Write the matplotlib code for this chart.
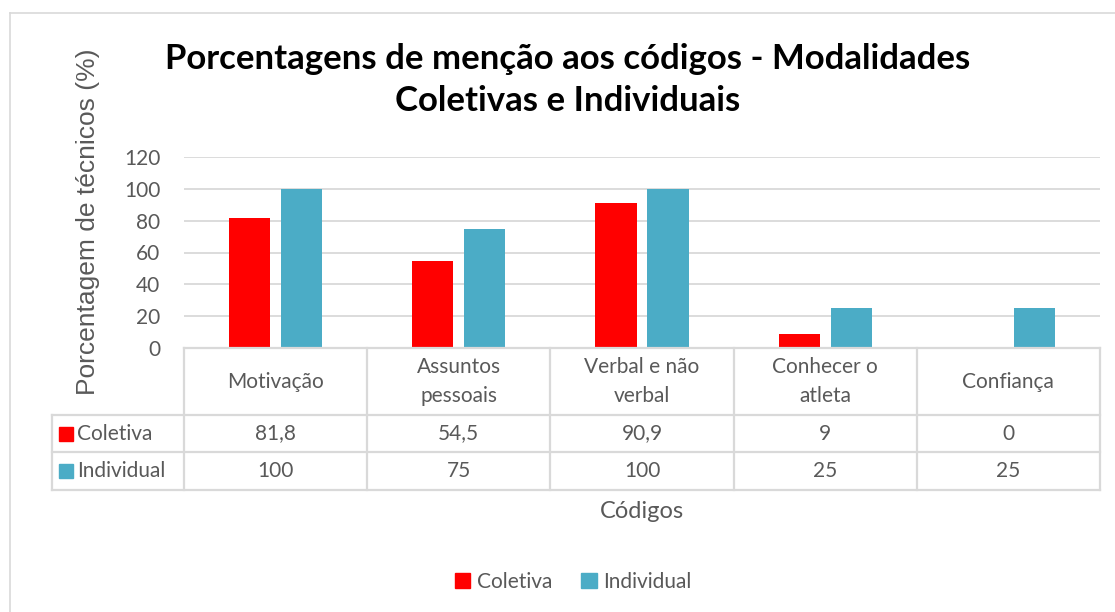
import numpy as np
import matplotlib.pyplot as plt
from matplotlib.lines import Line2D
from matplotlib.patches import Rectangle

plt.rcParams['font.family'] = ['Lato', 'DejaVu Sans']

categories = ['Motivação', 'Assuntos\npessoais', 'Verbal e não\nverbal', 'Conhecer o\natleta', 'Confiança']
coletiva = [81.8, 54.5, 90.9, 9, 0]
individual = [100, 75, 100, 25, 25]
coletiva_txt = ['81,8', '54,5', '90,9', '9', '0']
individual_txt = ['100', '75', '100', '25', '25']
series = ['Coletiva', 'Individual']
colors = ['#FF0000', '#4BACC6']
yticks = [0, 20, 40, 60, 80, 100, 120]

W, H = 1115, 612
grey = '#595959'
line_c = '#D9D9D9'
fs = 15

fig = plt.figure(figsize=(W / 100, H / 100), dpi=100)


def fx(px):
    return px / W


def fy(py):
    return 1 - py / H


# outer chart border
fig.add_artist(Line2D([fx(10), fx(10)], [fy(13), 0], color=line_c, lw=1.2))
fig.add_artist(Line2D([fx(10), 1], [fy(13), fy(13)], color=line_c, lw=1.2))

# plot area
x0, x1, ytop, ybot = 184, 1100, 157, 348
ax = fig.add_axes([fx(x0), fy(ybot), fx(x1 - x0), (ybot - ytop) / H])
x = np.arange(len(categories))
bw = 0.224
ax.bar(x - 0.142, coletiva, bw, color=colors[0], label=series[0])
ax.bar(x + 0.142, individual, bw, color=colors[1], label=series[1])
ax.set_xlim(-0.5, len(categories) - 0.5)
ax.set_ylim(0, 120)
ax.set_yticks(yticks)
ax.set_xticks([])
ax.yaxis.grid(True, color=line_c, lw=1.3)
ax.set_axisbelow(True)
for s in ax.spines.values():
    s.set_visible(False)
ax.tick_params(axis='y', length=0, labelsize=fs, labelcolor=grey, pad=17)

# data table
cw = (x1 - x0) / len(categories)
tl, r1, r2, r3 = 52, 415, 452, 490
tab_kw = dict(color=line_c, lw=1.6)
fig.add_artist(Line2D([fx(x0), fx(x1)], [fy(ybot), fy(ybot)], **tab_kw))
for yy in (r1, r2, r3):
    fig.add_artist(Line2D([fx(tl), fx(x1)], [fy(yy), fy(yy)], **tab_kw))
fig.add_artist(Line2D([fx(tl), fx(tl)], [fy(r1), fy(r3)], **tab_kw))
for i in range(len(categories) + 1):
    xx = x0 + i * cw
    fig.add_artist(Line2D([fx(xx), fx(xx)], [fy(ybot), fy(r3)], **tab_kw))

for i, cat in enumerate(categories):
    cx = fx(x0 + (i + 0.5) * cw)
    fig.text(cx, fy((ybot + r1) / 2), cat, ha='center', va='center',
             fontsize=fs, color=grey, linespacing=1.55)
    fig.text(cx, fy((r1 + r2) / 2), coletiva_txt[i], ha='center', va='center',
             fontsize=fs, color=grey)
    fig.text(cx, fy((r2 + r3) / 2), individual_txt[i], ha='center', va='center',
             fontsize=fs, color=grey)

for (ya, yb), name, col in zip([(r1, r2), (r2, r3)], series, colors):
    yc = (ya + yb) / 2
    fig.add_artist(Rectangle((fx(59), fy(yc + 7)), fx(14), 14 / H, color=col))
    fig.text(fx(77), fy(yc), name, ha='left', va='center', fontsize=fs, color=grey)

# labels
fig.text(fx(642), fy(512), 'Códigos', ha='center', va='center', fontsize=17, color=grey)
fig.text(fx(88), fy(222), 'Porcentagem de técnicos (%)', rotation=90,
         ha='center', va='center', fontsize=19, color=grey,
         family=['Liberation Sans', 'DejaVu Sans'])
fig.text(fx(568), fy(80), 'Porcentagens de menção aos códigos - Modalidades\nColetivas e Individuais',
         ha='center', va='center', fontsize=25, fontweight='bold', color='black',
         linespacing=1.4)

# legend
handles = [Rectangle((0, 0), 1, 1, color=c) for c in colors]
fig.legend(handles, series, loc='center', bbox_to_anchor=(fx(573), fy(582)),
           ncol=2, frameon=False, fontsize=fs, handlelength=0.75, handleheight=0.75,
           handletextpad=0.3, columnspacing=1.4, labelcolor=grey)

fig.savefig('out.png', dpi=100)
